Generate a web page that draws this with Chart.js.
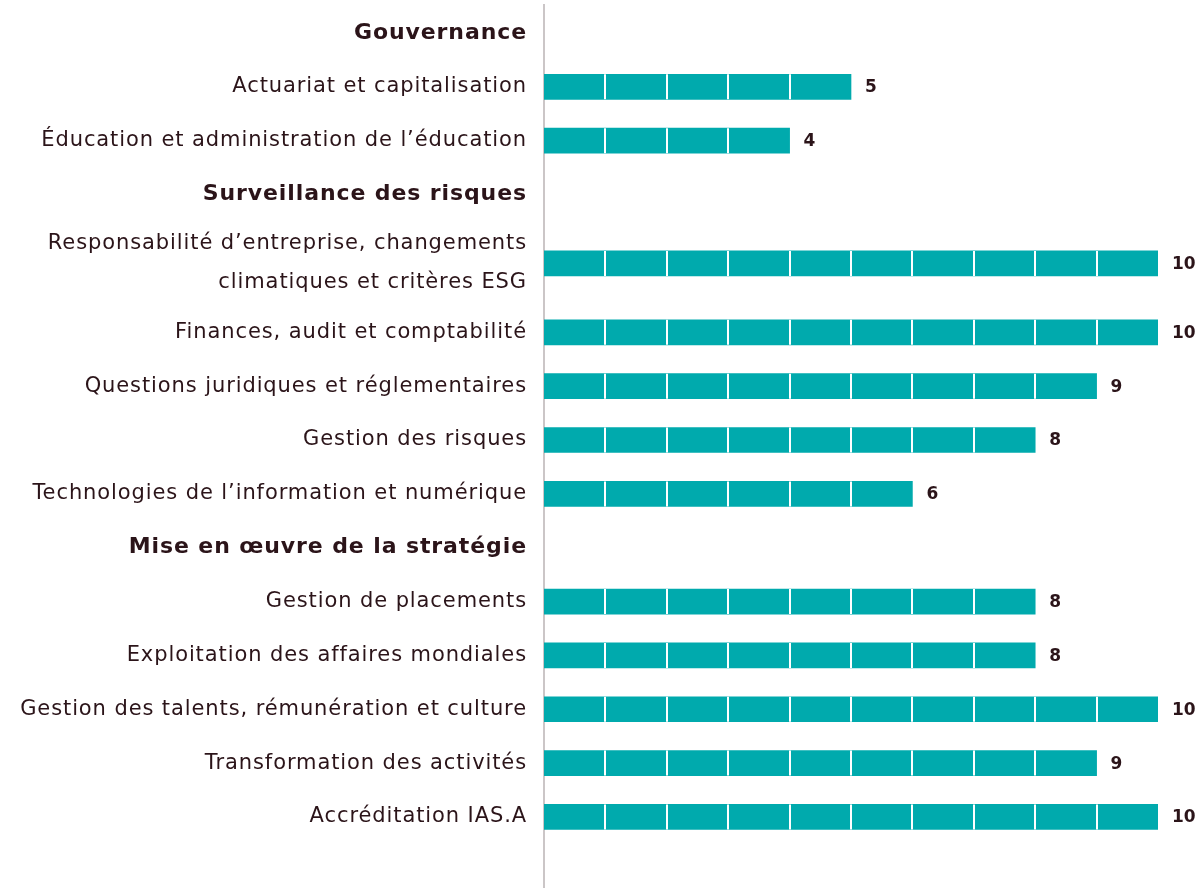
<!DOCTYPE html>
<html>
<head>
<meta charset="utf-8">
<script src="https://cdn.jsdelivr.net/npm/chart.js@4"></script>
<style>
  html, body { margin: 0; padding: 0; background: #fff; }
  #wrap { width: 1204px; height: 888px; }
</style>
</head>
<body>
<div id="wrap"><canvas id="skillsChart"></canvas></div>
<script>
// Compétences du conseil (nombre d'administrateurs)
const categories = [
  'Gouvernance',
  'Actuariat et capitalisation',
  'Éducation et administration de l’éducation',
  'Surveillance des risques',
  ['Responsabilité d’entreprise, changements', 'climatiques et critères ESG'],
  'Finances, audit et comptabilité',
  'Questions juridiques et réglementaires',
  'Gestion des risques',
  'Technologies de l’information et numérique',
  'Mise en œuvre de la stratégie',
  'Gestion de placements',
  'Exploitation des affaires mondiales',
  'Gestion des talents, rémunération et culture',
  'Transformation des activités',
  'Accréditation IAS.A'
];
// null = titre de section
const values = [null, 5, 4, null, 10, 10, 9, 8, 6, null, 8, 8, 10, 9, 10];
const xTicks = [0, 1, 2, 3, 4, 5, 6, 7, 8, 9, 10];

const textColor = '#2b1419';
const barColor = '#00aaad';
const fontFamily = '"DejaVu Sans", sans-serif';

// position de chaque ligne : les libellés sur deux lignes prennent plus de place
const rowPos = [];
categories.forEach((c, i) => {
  const h = 1 + 0.56 * ((Array.isArray(c) ? c.length : 1) - 1);
  if (i === 0) rowPos.push(0);
  else {
    const p = categories[i - 1];
    const hp = 1 + 0.56 * ((Array.isArray(p) ? p.length : 1) - 1);
    rowPos.push(rowPos[i - 1] + hp / 2 + h / 2);
  }
});

const points = [];
values.forEach((v, i) => { if (v !== null) points.push({ x: v, y: rowPos[i] }); });

// un peu d'espacement des lettres pour les libellés
const spacingPlugin = {
  id: 'spacing',
  beforeDraw(chart) { chart.ctx.letterSpacing = '0.9px'; }
};

// séparateurs blancs entre les unités + valeurs à droite
const unitsPlugin = {
  id: 'units',
  afterDatasetsDraw(chart) {
    const c = chart.ctx;
    const xs = chart.scales.x;
    const meta = chart.getDatasetMeta(0);
    c.save();
    c.letterSpacing = '0px';
    meta.data.forEach((bar, i) => {
      const v = points[i].x;
      const top = bar.y - bar.height / 2;
      c.strokeStyle = '#ffffff';
      c.lineWidth = 2;
      for (let k = 1; k < v; k++) {
        const px = Math.round(xs.getPixelForValue(xTicks[k]));
        c.beginPath();
        c.moveTo(px, top);
        c.lineTo(px, top + bar.height);
        c.stroke();
      }
      c.fillStyle = textColor;
      c.font = 'bold 17px ' + fontFamily;
      c.textAlign = 'left';
      c.textBaseline = 'middle';
      c.fillText(String(v), bar.x + 14, bar.y + 1);
    });
    c.restore();
  }
};

const ctx = document.getElementById('skillsChart').getContext('2d');
const chart = new Chart(ctx, {
  type: 'bar',
  data: {
    datasets: [{
      data: points,
      backgroundColor: barColor,
      borderWidth: 0,
      barThickness: 25
    }]
  },
  plugins: [spacingPlugin, unitsPlugin],
  options: {
    indexAxis: 'y',
    responsive: true,
    maintainAspectRatio: false,
    animation: false,
    layout: { padding: { top: 5, right: 46, bottom: 0, left: 0 } },
    plugins: {
      legend: { display: false },
      tooltip: { enabled: false }
    },
    scales: {
      x: {
        type: 'linear',
        min: xTicks[0],
        max: xTicks[xTicks.length - 1],
        display: false
      },
      y: {
        type: 'linear',
        reverse: true,
        offset: false,
        bounds: 'data',
        min: -0.52,
        max: rowPos[rowPos.length - 1] + 1.32,
        afterBuildTicks: axis => { axis.ticks = rowPos.map(p => ({ value: p })); },
        afterFit: axis => {
          axis.width = 544;
          axis.paddingTop = 0;
          axis.paddingBottom = 0;
        },
        grid: { display: false, drawTicks: false },
        border: { display: true, color: '#cbc6c7', width: 2 },
        ticks: {
          autoSkip: false,
          padding: 17,
          color: textColor,
          callback: (v, i) => categories[i],
          font: c => values[c.index] === null
            ? { family: fontFamily, size: 22, weight: 'bold', lineHeight: 1.85 }
            : { family: fontFamily, size: 21, weight: 'normal', lineHeight: 1.85 }
        }
      }
    }
  }
});
</script>
</body>
</html>
